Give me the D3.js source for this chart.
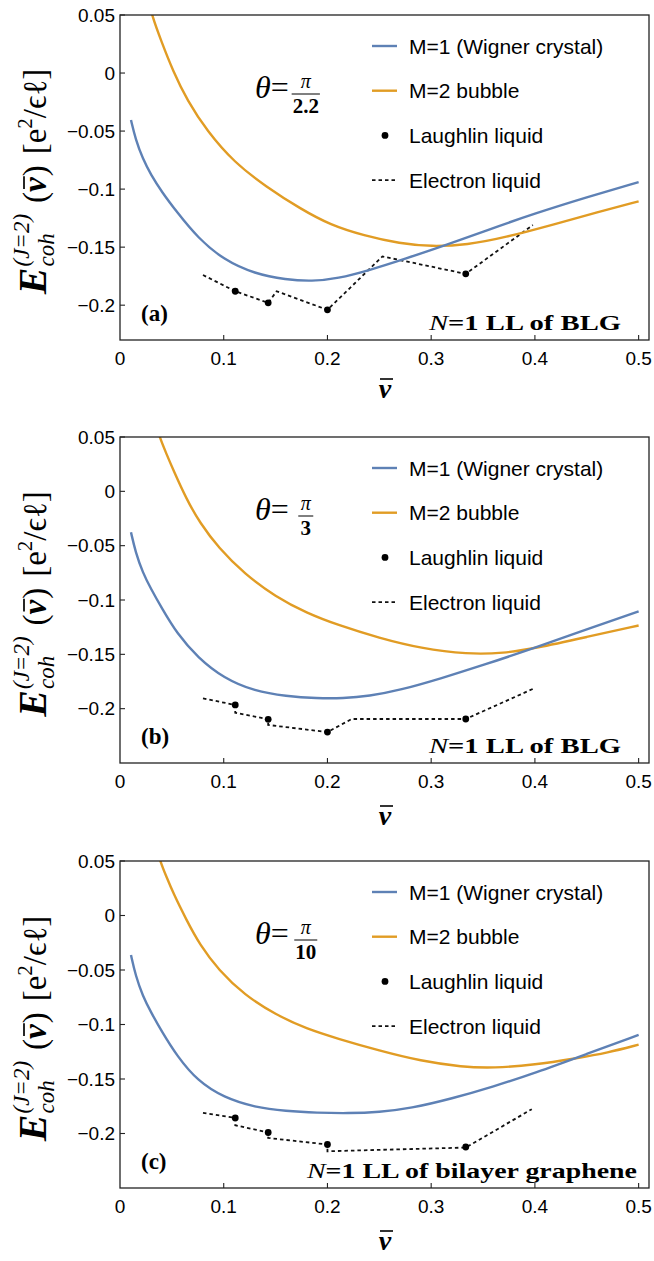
<!DOCTYPE html>
<html>
<head>
<meta charset="utf-8">
<script src="https://cdn.jsdelivr.net/npm/d3@7"></script>
<style>
body { margin: 0; background: #fff; }
</style>
</head>
<body>
<script>
var width = 654,
    height = 1261;

// tick labels and texts
var xTicks = [0, 0.1, 0.2, 0.3, 0.4, 0.5],
    yTicks = [0.05, 0, -0.05, -0.1, -0.15, -0.2],
    panelIds = ["(a)", "(b)", "(c)"],
    thetaDen = ["2.2", "3", "10"],
    notes = ["=1 LL of BLG", "=1 LL of BLG", "=1 LL of bilayer graphene"],
    yDomains = [[-0.23, 0.05], [-0.25, 0.05], [-0.25, 0.05]],
    legendLabels = ["M=1 (Wigner crystal)", "M=2 bubble", "Laughlin liquid", "Electron liquid"];

// panel (a), theta = pi/2.2  -- [nu, E]
var wignerA = [[0.0106, -0.0405], [0.015, -0.057], [0.022, -0.074], [0.03, -0.088], [0.04, -0.102],
               [0.055, -0.12], [0.075, -0.142], [0.1, -0.161], [0.13, -0.173], [0.16, -0.178],
               [0.185, -0.1795], [0.21, -0.177], [0.24, -0.17], [0.275, -0.16], [0.315, -0.148],
               [0.355, -0.135], [0.4, -0.121], [0.45, -0.107], [0.5, -0.094]];
var bubbleA = [[0.028, 0.062], [0.0306, 0.05], [0.04, 0.027], [0.051, 0.002], [0.065, -0.024],
               [0.084, -0.05], [0.11, -0.077], [0.141, -0.098], [0.174, -0.117], [0.203, -0.131],
               [0.235, -0.14], [0.27, -0.147], [0.3, -0.1495], [0.335, -0.148], [0.37, -0.142],
               [0.42, -0.13], [0.46, -0.12], [0.5, -0.1105]];
var laughlinA = [[1 / 9, -0.188], [1 / 7, -0.198], [1 / 5, -0.204], [1 / 3, -0.173]];
var electronA = [[0.08, -0.174], [1 / 9, -0.188], [1 / 7, -0.198], [0.151, -0.188], [0.2, -0.204],
                 [0.253, -0.158], [1 / 3, -0.173], [0.398, -0.131]];

// panel (b), theta = pi/3
var wignerB = [[0.0106, -0.0377], [0.015, -0.056], [0.022, -0.075], [0.03, -0.09], [0.04, -0.107],
               [0.055, -0.131], [0.075, -0.153], [0.1, -0.172], [0.13, -0.184], [0.16, -0.1885],
               [0.19, -0.1905], [0.215, -0.1905], [0.24, -0.1885], [0.27, -0.183], [0.31, -0.172],
               [0.35, -0.16], [0.4, -0.144], [0.45, -0.127], [0.5, -0.1105]];
var bubbleB = [[0.035, 0.062], [0.038, 0.05], [0.045, 0.034], [0.0514, 0.0196], [0.064, -0.007],
               [0.077, -0.029], [0.095, -0.052], [0.12, -0.076], [0.15, -0.097], [0.18, -0.112],
               [0.21, -0.123], [0.25, -0.135], [0.29, -0.1445], [0.335, -0.15], [0.37, -0.149],
               [0.4, -0.1445], [0.45, -0.134], [0.5, -0.1235]];
var laughlinB = [[1 / 9, -0.1966], [1 / 7, -0.2098], [1 / 5, -0.2215], [1 / 3, -0.2095]];
var electronB = [[0.08, -0.1905], [1 / 9, -0.1966], [1 / 9, -0.2037], [1 / 7, -0.2098], [1 / 7, -0.215],
                 [0.2, -0.2215], [0.2235, -0.2095], [1 / 3, -0.2095], [0.4, -0.181]];

// panel (c), theta = pi/10
var wignerC = [[0.0106, -0.0363], [0.015, -0.055], [0.022, -0.074], [0.03, -0.089], [0.04, -0.106],
               [0.055, -0.129], [0.075, -0.152], [0.1, -0.167], [0.13, -0.176], [0.16, -0.1795],
               [0.19, -0.181], [0.22, -0.1815], [0.25, -0.1805], [0.28, -0.177], [0.32, -0.168],
               [0.36, -0.157], [0.4, -0.1445], [0.45, -0.127], [0.5, -0.1095]];
var bubbleC = [[0.0355, 0.062], [0.0386, 0.05], [0.045, 0.035], [0.0514, 0.0203], [0.064, -0.004],
               [0.077, -0.027], [0.095, -0.05], [0.12, -0.073], [0.15, -0.091], [0.18, -0.104],
               [0.21, -0.113], [0.25, -0.124], [0.29, -0.1335], [0.33, -0.139], [0.36, -0.14],
               [0.4, -0.137], [0.44, -0.131], [0.47, -0.126], [0.5, -0.1185]];
var laughlinC = [[1 / 9, -0.1857], [1 / 7, -0.1991], [1 / 5, -0.2101], [1 / 3, -0.2124]];
var electronC = [[0.08, -0.1811], [1 / 9, -0.1857], [1 / 9, -0.1924], [1 / 7, -0.1991], [1 / 7, -0.2041],
                 [0.2, -0.2101], [0.2, -0.2163], [1 / 3, -0.2129], [0.397, -0.1777]];

var wigner = [wignerA, wignerB, wignerC],
    bubble = [bubbleA, bubbleB, bubbleC],
    laughlin = [laughlinA, laughlinB, laughlinC],
    electron = [electronA, electronB, electronC];

var blue = "#5e81b5",
    orange = "#e19c24",
    tops = [15, 437, 861],
    bottoms = [340, 763, 1188],
    xlabGap = [58, 62, 62],
    left = 120,
    right = 649;

var svg = d3.select("body")
            .append("svg")
            .attr("width", width)
            .attr("height", height);

var x = d3.scaleLinear()
          .domain([0, 0.51])
          .range([left, right]);

var serif = "'Liberation Serif', 'DejaVu Serif', serif",
    sans = "'Liberation Sans', Arial, sans-serif";

function fmt(d) {
  return d < 0 ? "\u2212" + String(-d) : String(d);
}

panelIds.forEach(function(id, i) {
  var top = tops[i], bottom = bottoms[i];
  var y = d3.scaleLinear().domain(yDomains[i]).range([bottom, top]);
  var g = svg.append("g");

  g.append("clipPath").attr("id", "clip" + i)
   .append("rect").attr("x", left).attr("y", top)
   .attr("width", right - left).attr("height", bottom - top);

  var plot = g.append("g").attr("clip-path", "url(#clip" + i + ")");

  var curve = d3.line()
      .x(function(d) { return x(d[0]); })
      .y(function(d) { return y(d[1]); })
      .curve(d3.curveBasis);
  var straight = d3.line()
      .x(function(d) { return x(d[0]); })
      .y(function(d) { return y(d[1]); });

  plot.append("path").attr("d", straight(electron[i]))
      .attr("fill", "none").attr("stroke", "#111")
      .attr("stroke-width", 1.8).attr("stroke-dasharray", "3.5,3");

  plot.append("path").attr("d", curve(bubble[i]))
      .attr("fill", "none").attr("stroke", orange).attr("stroke-width", 2.4);
  plot.append("path").attr("d", curve(wigner[i]))
      .attr("fill", "none").attr("stroke", blue).attr("stroke-width", 2.4);

  plot.selectAll("circle").data(laughlin[i]).enter().append("circle")
      .attr("cx", function(d) { return x(d[0]); })
      .attr("cy", function(d) { return y(d[1]); })
      .attr("r", 3.4).attr("fill", "#000");

  // frame
  g.append("rect").attr("x", left).attr("y", top)
   .attr("width", right - left).attr("height", bottom - top)
   .attr("fill", "none").attr("stroke", "#222").attr("stroke-width", 1.3);

  // ticks (inward)
  g.selectAll(".xt").data(xTicks.slice(1)).enter().append("line")
   .attr("x1", function(d) { return x(d); }).attr("x2", function(d) { return x(d); })
   .attr("y1", bottom).attr("y2", bottom - 5)
   .attr("stroke", "#222").attr("stroke-width", 1.1);
  g.selectAll(".yt").data(yTicks).enter().append("line")
   .attr("x1", left).attr("x2", left + 5)
   .attr("y1", function(d) { return y(d); }).attr("y2", function(d) { return y(d); })
   .attr("stroke", "#222").attr("stroke-width", 1.1);

  g.selectAll(".xl").data(xTicks).enter().append("text")
   .attr("x", function(d) { return x(d); }).attr("y", bottom + 25)
   .attr("text-anchor", "middle").attr("font-family", sans).attr("font-size", 19)
   .text(function(d) { return String(d); });
  g.selectAll(".yl").data(yTicks).enter().append("text")
   .attr("x", left - 5).attr("y", function(d) { return y(d) + 6.5; })
   .attr("text-anchor", "end").attr("font-family", sans).attr("font-size", 19)
   .text(fmt);

  // x label: bold italic nu with a bar
  var xlY = bottom + xlabGap[i];
  g.append("text").attr("x", 385).attr("y", xlY)
   .attr("text-anchor", "middle").attr("font-family", serif)
   .attr("font-size", 28).attr("font-weight", "bold").attr("font-style", "italic")
   .text("\u03bd");
  g.append("line").attr("x1", 380).attr("x2", 393)
   .attr("y1", xlY - 19).attr("y2", xlY - 19)
   .attr("stroke", "#000").attr("stroke-width", 1.6);

  // y label, pieces laid out along the rotated baseline
  var yl = g.append("g").attr("font-family", serif);
  var pos = 0;
  function piece(txt, size, dy, opts) {
    var t = yl.append("text").attr("x", pos).attr("y", dy)
              .attr("font-size", size).text(txt);
    if (opts && opts.b) t.attr("font-weight", "bold");
    if (opts && opts.i) t.attr("font-style", "italic");
    return t.node().getComputedTextLength();
  }
  pos += piece("E", 40, 0, {b: 1, i: 1}) + 1;
  var w1 = piece("(J=2)", 23, -17, {i: 1});
  var w2 = piece("coh", 23, 8, {i: 1});
  pos += Math.max(w1, w2) + 11;
  pos += piece("(", 33, 0);
  var nuStart = pos;
  var nuW = piece("\u03bd", 33, 0, {b: 1, i: 1});
  yl.append("line").attr("x1", nuStart + 3).attr("x2", nuStart + nuW + 1)
    .attr("y1", -22).attr("y2", -22).attr("stroke", "#000").attr("stroke-width", 1.7);
  pos += nuW + 1;
  pos += piece(")", 33, 0) + 11;
  pos += piece("[e", 33, 0);
  pos += piece("2", 21, -14);
  pos += piece("/\u03f5\u2113]", 33, 0);
  var cy = (top + bottom) / 2 + 4;
  yl.attr("transform", "translate(46," + cy + ") rotate(-90) translate(" + (-pos / 2) + ",0)");

  // theta annotation
  var th = g.append("text").attr("x", 255).attr("y", top + 83)
            .attr("font-family", serif).attr("font-size", 32);
  th.append("tspan").attr("font-style", "italic").text("\u03b8");
  th.append("tspan").text("=");
  var thEnd = 255 + th.node().getComputedTextLength();
  var fx = thEnd + 17;
  g.append("text").attr("x", fx).attr("y", top + 73).attr("text-anchor", "middle")
   .attr("font-family", serif).attr("font-size", 20).attr("font-style", "italic").text("\u03c0");
  var den = g.append("text").attr("x", fx).attr("y", top + 98).attr("text-anchor", "middle")
   .attr("font-family", serif).attr("font-size", 21).attr("font-weight", "bold").text(thetaDen[i]);
  var dw = Math.max(den.node().getComputedTextLength(), 13);
  g.append("line").attr("x1", fx - dw / 2 - 1).attr("x2", fx + dw / 2 + 1)
   .attr("y1", top + 79).attr("y2", top + 79).attr("stroke", "#000").attr("stroke-width", 1);

  // panel id
  g.append("text").attr("x", 141).attr("y", bottom - 19)
   .attr("font-family", serif).attr("font-size", 23).attr("font-weight", "bold").text(id);

  // bottom-right note
  var noteLen = i === 2 ? 330 : 192;
  var nx = i === 2 ? 307 : 429;
  var nt = g.append("text").attr("x", nx).attr("y", bottom - 10)
            .attr("font-family", serif).attr("font-size", 21)
            .attr("textLength", noteLen).attr("lengthAdjust", "spacingAndGlyphs");
  nt.append("tspan").attr("font-style", "italic").text("N");
  nt.append("tspan").attr("font-weight", "bold").text(notes[i]);

  // legend
  var lg = g.append("g");
  legendLabels.forEach(function(lab, k) {
    var ly = top + 31 + k * 44.7;
    if (k === 0 || k === 1) {
      lg.append("line").attr("x1", 372).attr("x2", 397).attr("y1", ly).attr("y2", ly)
        .attr("stroke", k === 0 ? blue : orange).attr("stroke-width", 2.4);
    } else if (k === 2) {
      lg.append("circle").attr("cx", 385).attr("cy", ly).attr("r", 3.4).attr("fill", "#000");
    } else {
      lg.append("line").attr("x1", 372).attr("x2", 397).attr("y1", ly).attr("y2", ly)
        .attr("stroke", "#111").attr("stroke-width", 1.8).attr("stroke-dasharray", "3.5,3");
    }
    lg.append("text").attr("x", 409).attr("y", ly + 7.5)
      .attr("font-family", sans).attr("font-size", 21).text(lab);
  });
});
</script>
</body>
</html>
